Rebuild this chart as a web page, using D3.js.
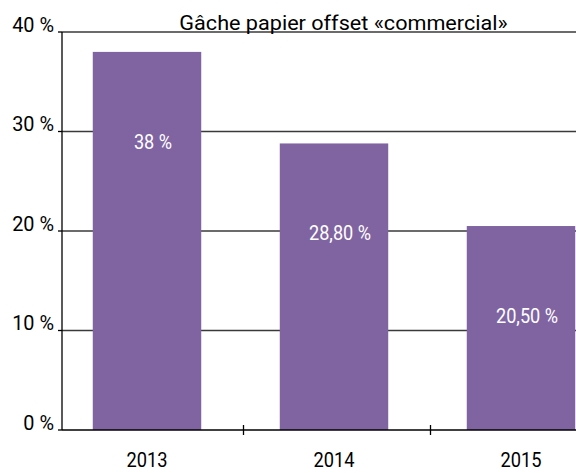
<!DOCTYPE html>
<html>
<head>
<meta charset="utf-8">
<script src="https://cdn.jsdelivr.net/npm/d3@7"></script>
<style>
  body { margin: 0; background: #fff; }
  text { font-family: Roboto, "Liberation Sans", sans-serif; }
</style>
</head>
<body>
<div id="chart"></div>
<script>
// données
const years = ["2013", "2014", "2015"];
const values = [38, 28.8, 20.5];
const valueLabels = ["38 %", "28,80 %", "20,50 %"];
const yTicks = [0, 10, 20, 30, 40];
const title = "Gâche papier offset «commercial»";

const W = 576, H = 473;
const svg = d3.select("#chart").append("svg")
  .attr("width", W).attr("height", H);

const x = d3.scaleBand().domain(years).range([53.5, 614.5]).paddingInner(0.42).paddingOuter(0.21);
const y = d3.scaleLinear().domain([0, 40]).range([430, 32]);
const left = 62;

// texte condensé : on écrase horizontalement
function narrowText(g, tx, ty, str, size, anchor, fill, scale) {
  return g.append("text")
    .attr("transform", `translate(${tx},${ty}) scale(${scale},1)`)
    .attr("text-anchor", anchor)
    .attr("font-size", size)
    .attr("fill", fill)
    .text(str);
}

// grille
svg.append("g").selectAll("line")
  .data(yTicks.filter(d => d > 0))
  .enter().append("line")
  .attr("x1", left).attr("x2", W)
  .attr("y1", d => y(d)).attr("y2", d => y(d))
  .attr("stroke", "#3a3a3a").attr("stroke-width", 1.3);

// barres
svg.append("g").selectAll("rect")
  .data(values)
  .enter().append("rect")
  .attr("x", (d, i) => x(years[i]))
  .attr("y", d => y(d))
  .attr("width", x.bandwidth())
  .attr("height", d => y(0) - y(d))
  .attr("fill", "#8064a2");

// étiquettes des valeurs
const gv = svg.append("g");
values.forEach((v, i) => {
  narrowText(gv, x(years[i]) + x.bandwidth() / 2 + 6, y(v) + 97, valueLabels[i], 19.5, "middle", "#fff", 0.93);
});

// axe Y
svg.append("line")
  .attr("x1", left).attr("x2", left)
  .attr("y1", y(40)).attr("y2", y(0))
  .attr("stroke", "#000").attr("stroke-width", 1.3);
const gy = svg.append("g");
yTicks.forEach(t => {
  gy.append("line")
    .attr("x1", left - 4).attr("x2", left)
    .attr("y1", y(t)).attr("y2", y(t))
    .attr("stroke", "#000").attr("stroke-width", 1.3);
  narrowText(gy, 54, y(t) - 0.5, t + " %", 19.5, "end", "#000", 1.02);
});

// axe X
svg.append("line")
  .attr("x1", left).attr("x2", W)
  .attr("y1", y(0)).attr("y2", y(0))
  .attr("stroke", "#000").attr("stroke-width", 1.3);

const step = x.step();
svg.append("g").selectAll("line")
  .data(years.slice(1))
  .enter().append("line")
  .attr("x1", d => x(d) - step * x.paddingInner() / 2 + 3)
  .attr("x2", d => x(d) - step * x.paddingInner() / 2 + 3)
  .attr("y1", y(0) - 5).attr("y2", y(0) + 5)
  .attr("stroke", "#000").attr("stroke-width", 1.3);

const gx = svg.append("g");
years.forEach(yr => {
  narrowText(gx, x(yr) + x.bandwidth() / 2, 467, yr, 21, "middle", "#000", 0.87);
});

// titre
narrowText(svg, 343.5, 30, title, 21, "middle", "#000", 1.03);
</script>
</body>
</html>
